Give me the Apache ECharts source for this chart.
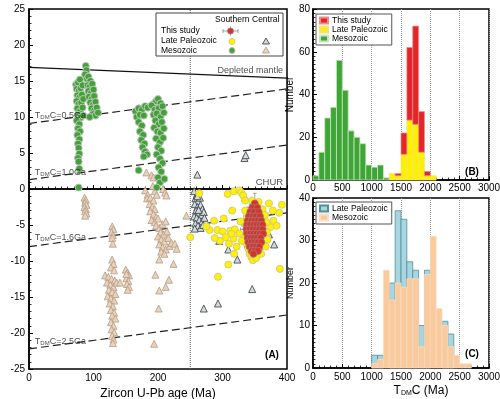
<!DOCTYPE html>
<html><head><meta charset="utf-8">
<script src="https://cdn.jsdelivr.net/npm/echarts@6/dist/echarts.min.js"></script>
<style>html,body{margin:0;padding:0;background:#fff}#c{width:500px;height:399px}</style>
</head><body><div id="c"></div>
<script>
// ---------- Panel A data: [age (Ma), epsilon Hf(t)] ----------
const mesozoicSouthern = [
  [88,17.1],[89,16.5],[87,15.9],[90,15.3],
  [73,14.5],[76,14.8],[79,15.2],[74,13.9],[77,13.6],[80,14.0],[83,14.4],[75,13.0],[78,12.7],[82,13.1],
  [74,12.2],[77,11.8],[81,12.0],[84,12.5],[75,11.2],[79,10.8],[83,11.3],[76,10.3],[80,9.9],[84,10.2],
  [74,9.5],[78,9.0],[76,8.4],[79,8.0],[75,7.5],[78,6.9],[76,6.3],[77,5.7],[78,4.9],[76,4.3],[77,3.8],[78,2.8],[77,0.2],
  [92,15.6],[95,15.0],[91,14.4],[94,14.2],[98,14.6],[92,13.6],[96,13.3],[100,13.8],[93,12.8],[97,12.5],
  [101,12.9],[95,12.0],[99,11.7],[103,12.1],[97,11.2],[101,10.9],[105,11.3],[99,10.4],[103,10.2],[107,10.6],[94,10.0],
  [165,10.8],[170,11.2],[175,11.0],[180,11.5],[184,11.3],[167,10.0],[172,10.3],[178,10.2],[170,9.3],[175,8.8],
  [172,8.0],[177,7.5],[174,6.8],[179,6.3],[176,5.8],[180,5.2],[183,4.8],[178,4.5],[170,2.6],
  [193,11.8],[197,12.2],[200,12.5],[204,11.9],[190,11.6],[195,11.0],[201,11.2],[207,11.5],[193,10.3],[198,10.5],
  [204,10.0],[209,10.6],[196,9.5],[201,9.0],[206,9.3],[194,8.5],[199,8.0],[204,7.8],[209,8.4],[197,7.0],
  [203,6.5],[208,7.1],[200,5.8],[205,5.3],[198,4.8],[203,4.2],[207,3.6],[201,3.0],[205,2.4],[200,1.6],
  [203,0.9],[198,0.2],[210,1.4]
];
const mesozoicCentral = [
  [86,-1.2],[88,-1.5],[87,-1.9],[89,-2.2],[86,-2.5],[88,-2.8],[87,-3.1],[89,-3.4],[87,-3.7],
  [129,-5.2],[131,-5.6],[128,-6.0],[130,-6.4],[129,-6.8],[130,-7.6],
  [129,-9.8],[131,-10.4],[127,-10.9],[132,-11.3],[118,-12.0],[123,-12.2],[128,-12.5],[133,-12.7],[121,-13.0],
  [126,-13.3],[131,-13.6],[124,-14.0],[129,-14.3],[134,-14.6],[122,-14.9],[127,-15.2],[132,-15.5],[125,-15.9],
  [130,-16.3],[127,-16.8],[132,-17.2],[129,-17.6],[134,-18.0],[127,-18.5],[131,-19.0],[128,-19.5],[132,-19.9],
  [129,-20.4],[131,-20.9],[130,-21.4],[136,-13.0],[141,-13.0],
  [150,-11.2],[153,-11.6],[155,-12.0],[151,-12.4],[154,-12.8],[152,-13.2],[155,-13.6],[153,-14.0],[151,-11.8],
  [182,2.3],[190,1.9],[193,1.6],[180,-0.2],[184,-0.8],[192,0.4],[195,-0.3],[198,-0.8],[208,0.0],[211,-0.5],[213,-0.9],
  [183,-1.3],[188,-1.2],[193,-1.6],[187,-2.1],[191,-2.5],[195,-2.8],[188,-3.1],[193,-3.5],[197,-3.9],[190,-4.3],
  [195,-4.6],[200,-4.1],[197,-5.1],[202,-5.4],[207,-4.9],[212,-4.5],[204,-6.0],[209,-6.3],[214,-5.9],[200,-6.6],
  [205,-7.0],[210,-7.3],[216,-6.8],[202,-7.7],[207,-8.1],[212,-8.4],[218,-7.9],[205,-8.7],[210,-9.0],[221,-7.5],
  [226,-7.6],[229,-8.3],[202,-9.8],[224,-10.4],[196,-11.9],[217,-12.6],[212,-13.6],[202,-14.1],[201,-16.6],[194,-21.5],[244,-3.7]
];
const latePaleozoicSouthern = [
  [264,-0.6],[308,-0.7],[318,-0.3],[326,-0.2],[329,-0.5],[332,-0.9],[335,-1.6],
  [287,-4.4],[302,-4.1],[280,-5.7],[292,-5.7],[300,-5.9],[312,-5.8],[319,-5.6],[250,-6.7],[305,-6.7],[317,-6.9],
  [310,-7.6],[322,-8.0],[318,-9.0],[309,-10.5],[293,-12.2],[389,-11.1],[392,-2.2],[388,-3.3],[379,-4.4],[384,-5.1],
  [374,-5.3],[369,-6.0],[342,-9.0],[345,-9.5],[315,-3.0],[314,-6.2],[332,-7.2],[347,-9.9],
  [335,-3.0],[338,-4.0],[336,-5.0],[334,-6.5],[337,-7.5],[340,-8.3],[346,-1.6],[356,-1.8],[362,-2.8],[366,-3.6],
  [368,-4.6],[370,-7.0],[367,-8.0],[360,-9.0],[352,-9.6],[378,-3.0],[372,-2.0],[328,-4.5],[326,-6.2],[330,-7.2],
  [296,-7.2],[288,-6.8],[275,-5.2]
];
const latePaleozoicCentral = [
  [256,-0.3],[260,-0.8],[258,-1.3],[262,-1.7],[265,-1.2],[257,-2.1],[261,-2.5],[266,-2.2],[269,-2.8],[259,-3.0],
  [263,-3.3],[267,-3.6],[271,-3.2],[256,-3.8],[260,-4.0],[264,-4.3],[268,-4.6],[272,-4.0],[258,-4.8],[262,-5.1],
  [266,-5.4],[270,-5.0],[263,-2.9],[257,-5.5],[261,-1.0],
  [261,2.0],[334,4.3],[336,4.7],[295,-7.2],[309,-8.4],[323,-9.8],[293,-15.9],[271,-16.6],[346,-13.9],[380,-7.7],[335,-1.2],[372,-6.3]
];
// This study: [age, eps, age error, eps error]
const thisStudy = [
  [350,-2.0,7,1.4],
  [346,-2.6,8,1.2],[354,-2.6,7,1.1],
  [343,-3.2,9,1.1],[349,-3.2,7,1.0],[356,-3.2,8,1.2],
  [341,-3.8,8,1.0],[347,-3.8,7,1.1],[352,-3.8,9,1.0],[358,-3.8,7,1.1],
  [339,-4.4,9,1.1],[345,-4.4,8,1.0],[350,-4.4,7,1.2],[355,-4.4,8,1.0],[360,-4.4,9,1.1],
  [338,-5.0,8,1.0],[343,-5.0,7,1.1],[348,-5.0,9,1.0],[353,-5.0,8,1.2],[358,-5.0,7,1.0],[362,-5.0,8,1.1],
  [337,-5.6,9,1.1],[342,-5.6,8,1.0],[347,-5.6,7,1.1],[352,-5.6,8,1.0],[357,-5.6,9,1.2],[362,-5.6,7,1.0],
  [338,-6.2,8,1.0],[343,-6.2,9,1.1],[348,-6.2,7,1.0],[353,-6.2,8,1.1],[358,-6.2,7,1.0],[363,-6.2,8,1.2],
  [339,-6.8,7,1.1],[344,-6.8,8,1.0],[349,-6.8,9,1.1],[354,-6.8,7,1.0],[359,-6.8,8,1.1],
  [340,-7.4,8,1.0],[345,-7.4,7,1.1],[350,-7.4,8,1.2],[355,-7.4,9,1.0],[360,-7.4,7,1.1],
  [342,-8.0,8,1.1],[347,-8.0,7,1.0],[352,-8.0,9,1.1],[357,-8.0,8,1.0],
  [345,-8.6,7,1.0],[350,-8.6,8,1.2],[355,-8.6,7,1.0],
  [348,-9.0,8,1.1]
];
// Reference lines [age, eps]
const depletedMantle = [[0,16.9],[400,15.4]];
const chur = [[0,0],[400,0]];
const tdm05 = [[0,9.1],[400,13.9]];
const tdm10 = [[0,1.3],[400,6.1]];
const tdm16 = [[0,-8.0],[400,-3.3]];
const tdm25 = [[0,-22.2],[400,-17.5]];
const boundary250 = [[250,-25],[250,25]];

// ---------- Panels B and C: histograms of T_DM^C (Ma), 100 Ma bins ----------
const binEdges = [0,100,200,300,400,500,600,700,800,900,1000,1100,1200,1300,1400,1500,1600,1700,1800,1900,2000,2100,2200,2300,2400,2500,2600,2700,2800,2900,3000];
const mesozoicB      = [2,13,29,34,56,42,23,20,17,7,6,7,1,0,0,0,0,0,0,0,0,0,0,0,0,0,0,0,0,0];
const latePaleozoicB = [0,0,0,0,0,0,0,0,0,0,0,0,0,3,2,12,28,26,13,2,2,0,0,0,0,0,0,0,0,0];
const thisStudyB     = [0,0,0,0,0,0,0,0,0,0,0,0,0,0,1,10,34,46,19,2,0,0,0,0,0,0,0,0,0,0];
const latePaleozoicC = [0,0,0,0,0,0,0,0,0,0,3,3,0,20,37,35,25,23,10,23,0,0,11,8,0,0,0,0,0,0];
const mesozoicC      = [0,0,0,0,0,0,0,0,0,0,1,2,23,16,20,19,21,21,5,22,31,14,10,5,3,1,1,0,0,0];

const FONT = 'Liberation Sans, Arial, sans-serif';

function bars(values, base) {
  const out = [];
  for (let i = 0; i < values.length; i++) {
    const b = base ? base[i] : 0;
    if (values[i] > 0) out.push([binEdges[i], binEdges[i+1], b, b + values[i]]);
  }
  return out;
}
function histItem(params, api) {
  const p0 = api.coord([api.value(0), api.value(2)]);
  const p1 = api.coord([api.value(1), api.value(3)]);
  return { type: 'rect', shape: { x: p0[0], y: p1[1], width: p1[0] - p0[0], height: p0[1] - p1[1] }, style: api.style() };
}
function errItem(params, api) {
  const x = api.value(0), y = api.value(1), ex = api.value(2), ey = api.value(3);
  const l = api.coord([x - ex, y]), r = api.coord([x + ex, y]);
  const t = api.coord([x, y + ey]), b = api.coord([x, y - ey]);
  const c = 1.8, st = { stroke: '#8c8c8c', lineWidth: 0.8 };
  return { type: 'group', children: [
    { type: 'line', shape: { x1: l[0], y1: l[1], x2: r[0], y2: r[1] }, style: st },
    { type: 'line', shape: { x1: l[0], y1: l[1]-c, x2: l[0], y2: l[1]+c }, style: st },
    { type: 'line', shape: { x1: r[0], y1: r[1]-c, x2: r[0], y2: r[1]+c }, style: st },
    { type: 'line', shape: { x1: t[0], y1: t[1], x2: b[0], y2: b[1] }, style: st },
    { type: 'line', shape: { x1: t[0]-c, y1: t[1], x2: t[0]+c, y2: t[1] }, style: st },
    { type: 'line', shape: { x1: b[0]-c, y1: b[1], x2: b[0]+c, y2: b[1] }, style: st }
  ]};
}

const axisLineBlack = { show: true, lineStyle: { color: '#000', width: 1.5 } };
const tickIn = { show: true, inside: true, length: 4, lineStyle: { color: '#000', width: 1 } };
const minor = function (n) { return { show: true, splitNumber: n, length: 2.5, lineStyle: { color: '#000', width: 0.8 } }; };
const lblStyle = { color: '#000', fontSize: 10, fontFamily: FONT, formatter: function (v) { return String(v); } };

function lineSeries(data, style) {
  return { type: 'line', xAxisIndex: 0, yAxisIndex: 0, data: data, symbol: 'none', silent: true,
           lineStyle: style, z: 2 };
}
const gridBase = { show: true, borderColor: '#000', borderWidth: 1.5, containLabel: false, outerBoundsMode: 'none' };

const option = {
  animation: false,
  textStyle: { fontFamily: FONT },
  grid: [
    Object.assign({ left: 29, right: 213, top: 9, bottom: 30 }, gridBase),
    Object.assign({ left: 313, right: 11, top: 9, bottom: 219 }, gridBase),
    Object.assign({ left: 313, right: 11, top: 198, bottom: 31 }, gridBase)
  ],
  xAxis: [
    { gridIndex: 0, type: 'value', min: 0, max: 400, interval: 100, axisLine: axisLineBlack, axisTick: tickIn,
      minorTick: minor(10), splitLine: { show: false }, axisLabel: Object.assign({ margin: 4 }, lblStyle),
      name: 'Zircon U-Pb age (Ma)', nameLocation: 'middle', nameGap: 14,
      nameTextStyle: { color: '#000', fontSize: 12, fontFamily: FONT, verticalAlign: 'top' } },
    { gridIndex: 1, type: 'value', min: 0, max: 3000, interval: 500, axisLine: axisLineBlack, axisTick: tickIn,
      minorTick: minor(5),
      splitLine: { show: true, lineStyle: { color: '#9a9a9a', type: 'dotted', width: 1 } },
      axisLabel: Object.assign({ margin: 3 }, lblStyle) },
    { gridIndex: 2, type: 'value', min: 0, max: 3000, interval: 500, axisLine: axisLineBlack, axisTick: tickIn,
      minorTick: minor(5),
      splitLine: { show: true, lineStyle: { color: '#9a9a9a', type: 'dotted', width: 1 } },
      axisLabel: Object.assign({ margin: 4 }, lblStyle),
      name: 'T{s|DM}C (Ma)', nameLocation: 'middle', nameGap: 16,
      nameTextStyle: { color: '#000', fontSize: 12, fontFamily: FONT, verticalAlign: 'top', padding: [0, 0, 0, 40],
        rich: { s: { fontSize: 7, fontFamily: FONT, color: '#000', verticalAlign: 'bottom', padding: [6, 0, 0, 0] } } } }
  ],
  yAxis: [
    { gridIndex: 0, type: 'value', min: -25, max: 25, interval: 5, axisLine: axisLineBlack, axisTick: tickIn,
      minorTick: minor(5), splitLine: { show: false }, axisLabel: Object.assign({ margin: 4 }, lblStyle),
      name: 'ε{s|Hf}(t)', nameLocation: 'middle', nameGap: 14, nameRotate: 90,
      nameTextStyle: { color: '#000', fontSize: 12, fontFamily: FONT,
        rich: { s: { fontSize: 7, fontFamily: FONT, color: '#000', verticalAlign: 'bottom', padding: [6, 0, 0, 0] } } } },
    { gridIndex: 1, type: 'value', min: 0, max: 80, interval: 20, axisLine: axisLineBlack, axisTick: tickIn,
      minorTick: minor(10), splitLine: { show: false }, axisLabel: Object.assign({ margin: 3 }, lblStyle),
      name: 'Number', nameLocation: 'middle', nameGap: 12, nameRotate: 90,
      nameTextStyle: { color: '#000', fontSize: 10, fontFamily: FONT } },
    { gridIndex: 2, type: 'value', min: 0, max: 40, interval: 10, axisLine: axisLineBlack, axisTick: tickIn,
      minorTick: minor(10), splitLine: { show: false }, axisLabel: Object.assign({ margin: 3 }, lblStyle),
      name: 'Number', nameLocation: 'middle', nameGap: 12, nameRotate: 90,
      nameTextStyle: { color: '#000', fontSize: 9, fontFamily: FONT } }
  ],
  legend: [
    { orient: 'vertical', left: 316, top: 14, itemWidth: 8, itemHeight: 6, itemGap: 0, selectedMode: false,
      padding: [2, 4, 2, 3], borderColor: '#555', borderWidth: 1, backgroundColor: '#fff',
      textStyle: { fontSize: 8.5, lineHeight: 9, color: '#000', fontFamily: FONT, padding: [0, 0, 0, -1] },
      data: [ { name: 'This study', icon: 'rect' }, { name: 'Late Paleozoic', icon: 'rect' }, { name: 'Mesozoic', icon: 'rect' } ] },
    { orient: 'vertical', left: 316, top: 202, itemWidth: 8, itemHeight: 6, itemGap: 0, selectedMode: false,
      padding: [2, 4, 2, 3], borderColor: '#555', borderWidth: 1, backgroundColor: '#fff',
      textStyle: { fontSize: 8.5, lineHeight: 9, color: '#000', fontFamily: FONT, padding: [0, 0, 0, -1] },
      formatter: function (n) { return n.trim(); },
      data: [ { name: 'Late Paleozoic ', icon: 'rect' }, { name: 'Mesozoic ', icon: 'rect' } ] }
  ],
  series: [
    lineSeries(boundary250, { color: '#666', width: 1, type: 'dotted' }),
    lineSeries(chur, { color: '#000', width: 1.5, type: 'solid' }),
    lineSeries(depletedMantle, { color: '#111', width: 1.2, type: 'solid' }),
    lineSeries(tdm05, { color: '#222', width: 1.2, type: [8, 4] }),
    lineSeries(tdm10, { color: '#222', width: 1.2, type: [8, 4] }),
    lineSeries(tdm16, { color: '#222', width: 1.2, type: [8, 4] }),
    lineSeries(tdm25, { color: '#222', width: 1.2, type: [8, 4] }),
    { name: 'A Mesozoic Central', type: 'scatter', xAxisIndex: 0, yAxisIndex: 0, data: mesozoicCentral,
      symbol: 'triangle', symbolSize: 7, itemStyle: { color: '#e9d1ba', borderColor: '#b59c86', borderWidth: 0.8, opacity: 1 }, z: 3 },
    { name: 'A Mesozoic Southern', type: 'scatter', xAxisIndex: 0, yAxisIndex: 0, data: mesozoicSouthern,
      symbol: 'circle', symbolSize: 7, itemStyle: { color: '#43a03b', borderColor: '#b9c9b3', borderWidth: 1, opacity: 1 }, z: 3 },
    { name: 'A Late Paleozoic Central', type: 'scatter', xAxisIndex: 0, yAxisIndex: 0, data: latePaleozoicCentral,
      symbol: 'triangle', symbolSize: 7, itemStyle: { color: '#cfdbe3', borderColor: '#4a4a4a', borderWidth: 0.9, opacity: 1 }, z: 3 },
    { name: 'A Late Paleozoic Southern', type: 'scatter', xAxisIndex: 0, yAxisIndex: 0, data: latePaleozoicSouthern,
      symbol: 'circle', symbolSize: 7, itemStyle: { color: '#fff100', borderColor: '#d6cc7a', borderWidth: 1, opacity: 1 }, z: 3 },
    { name: 'A This study errors', type: 'custom', xAxisIndex: 0, yAxisIndex: 0, data: thisStudy,
      renderItem: errItem, encode: { x: 0, y: 1 }, silent: true, z: 3 },
    { name: 'A This study', type: 'scatter', xAxisIndex: 0, yAxisIndex: 0, data: thisStudy,
      symbol: 'circle', symbolSize: 7, itemStyle: { color: '#d8322a', borderColor: '#9c7b7b', borderWidth: 0.8, opacity: 1 }, z: 4 },
    { name: 'annotations', type: 'scatter', xAxisIndex: 0, yAxisIndex: 0, symbolSize: 0, silent: true, z: 5,
      label: { show: true, position: 'right', distance: 0, fontSize: 9, color: '#222', fontFamily: FONT,
        rich: { s: { fontSize: 6, fontFamily: FONT, color: '#222', verticalAlign: 'bottom', padding: [4, 0, 0, 0] } } },
      data: [
        { value: [9, 10.2], label: { formatter: 'T{s|DM}C=0.5Ga' } },
        { value: [9, 2.3], label: { formatter: 'T{s|DM}C=1.0Ga' } },
        { value: [9, -6.7], label: { formatter: 'T{s|DM}C=1.6Ga' } },
        { value: [9, -21.2], label: { formatter: 'T{s|DM}C=2.5Ga' } },
        { value: [394, 16.4], label: { formatter: 'Depleted mantle', position: 'left' } },
        { value: [394, 0.9], label: { formatter: 'CHUR', position: 'left', fontSize: 9.5 } }
      ] },
    // Panel B
    { name: 'Mesozoic', type: 'custom', xAxisIndex: 1, yAxisIndex: 1, data: bars(mesozoicB), renderItem: histItem,
      encode: { x: [0, 1], y: [2, 3] }, itemStyle: { color: '#3ea636', borderColor: '#c9e5c0', borderWidth: 0.8 } },
    { name: 'Late Paleozoic', type: 'custom', xAxisIndex: 1, yAxisIndex: 1, data: bars(latePaleozoicB), renderItem: histItem,
      encode: { x: [0, 1], y: [2, 3] }, itemStyle: { color: '#fff000', borderColor: '#f1e27a', borderWidth: 0.8 } },
    { name: 'This study', type: 'custom', xAxisIndex: 1, yAxisIndex: 1, data: bars(thisStudyB, latePaleozoicB), renderItem: histItem,
      encode: { x: [0, 1], y: [2, 3] }, itemStyle: { color: '#e2262a', borderColor: '#f08a8a', borderWidth: 0.8 } },
    // Panel C
    { name: 'Late Paleozoic ', type: 'custom', xAxisIndex: 2, yAxisIndex: 2, data: bars(latePaleozoicC), renderItem: histItem,
      encode: { x: [0, 1], y: [2, 3] }, itemStyle: { color: '#a7d6e0', borderColor: '#4f8f9c', borderWidth: 0.8 } },
    { name: 'Mesozoic ', type: 'custom', xAxisIndex: 2, yAxisIndex: 2, data: bars(mesozoicC), renderItem: histItem,
      encode: { x: [0, 1], y: [2, 3] }, itemStyle: { color: '#fac99c', borderColor: '#f9dfc6', borderWidth: 0.7 } }
  ],
  graphic: [
    { type: 'rect', z: 100, shape: { x: 156, y: 13, width: 127, height: 43 }, style: { fill: '#fff', stroke: '#444', lineWidth: 1 } },
    { type: 'text', z: 101, x: 215, y: 20, style: { text: 'Southern', fontSize: 8.5, fontFamily: FONT, fill: '#000', verticalAlign: 'middle' } },
    { type: 'text', z: 101, x: 252, y: 20, style: { text: 'Central', fontSize: 8.5, fontFamily: FONT, fill: '#000', verticalAlign: 'middle' } },
    { type: 'text', z: 101, x: 161, y: 31, style: { text: 'This study', fontSize: 8.5, fontFamily: FONT, fill: '#000', verticalAlign: 'middle' } },
    { type: 'text', z: 101, x: 161, y: 41, style: { text: 'Late Paleozoic', fontSize: 8.5, fontFamily: FONT, fill: '#000', verticalAlign: 'middle' } },
    { type: 'text', z: 101, x: 161, y: 50.5, style: { text: 'Mesozoic', fontSize: 8.5, fontFamily: FONT, fill: '#000', verticalAlign: 'middle' } },
    { type: 'line', z: 101, shape: { x1: 223, y1: 31, x2: 238, y2: 31 }, style: { stroke: '#8c8c8c', lineWidth: 0.8 } },
    { type: 'line', z: 101, shape: { x1: 223, y1: 29, x2: 223, y2: 33 }, style: { stroke: '#8c8c8c', lineWidth: 0.8 } },
    { type: 'line', z: 101, shape: { x1: 238, y1: 29, x2: 238, y2: 33 }, style: { stroke: '#8c8c8c', lineWidth: 0.8 } },
    { type: 'line', z: 101, shape: { x1: 230.5, y1: 26.5, x2: 230.5, y2: 35.5 }, style: { stroke: '#8c8c8c', lineWidth: 0.8 } },
    { type: 'circle', z: 102, shape: { cx: 230.5, cy: 31, r: 3 }, style: { fill: '#d8322a', stroke: '#9c7b7b', lineWidth: 0.8 } },
    { type: 'circle', z: 102, shape: { cx: 232, cy: 41.5, r: 3 }, style: { fill: '#fff100', stroke: '#d6cc7a', lineWidth: 1 } },
    { type: 'circle', z: 102, shape: { cx: 232, cy: 50.5, r: 3 }, style: { fill: '#43a03b', stroke: '#b9c9b3', lineWidth: 1 } },
    { type: 'polygon', z: 102, shape: { points: [[266, 38], [269.5, 44], [262.5, 44]] }, style: { fill: '#cfdbe3', stroke: '#4a4a4a', lineWidth: 0.9 } },
    { type: 'polygon', z: 102, shape: { points: [[266, 47], [269.5, 53], [262.5, 53]] }, style: { fill: '#e9d1ba', stroke: '#b59c86', lineWidth: 0.8 } },
    { type: 'text', z: 101, x: 272, y: 355, style: { text: '(A)', fontSize: 10, fontWeight: 'bold', fontFamily: FONT, fill: '#000', align: 'center', verticalAlign: 'middle' } },
    { type: 'text', z: 101, x: 472, y: 172, style: { text: '(B)', fontSize: 10, fontWeight: 'bold', fontFamily: FONT, fill: '#000', align: 'center', verticalAlign: 'middle' } },
    { type: 'text', z: 101, x: 472, y: 354, style: { text: '(C)', fontSize: 10, fontWeight: 'bold', fontFamily: FONT, fill: '#000', align: 'center', verticalAlign: 'middle' } }
  ]
};

const chart = echarts.init(document.getElementById('c'), null, { renderer: 'canvas' });
chart.setOption(option);
</script></body></html>
